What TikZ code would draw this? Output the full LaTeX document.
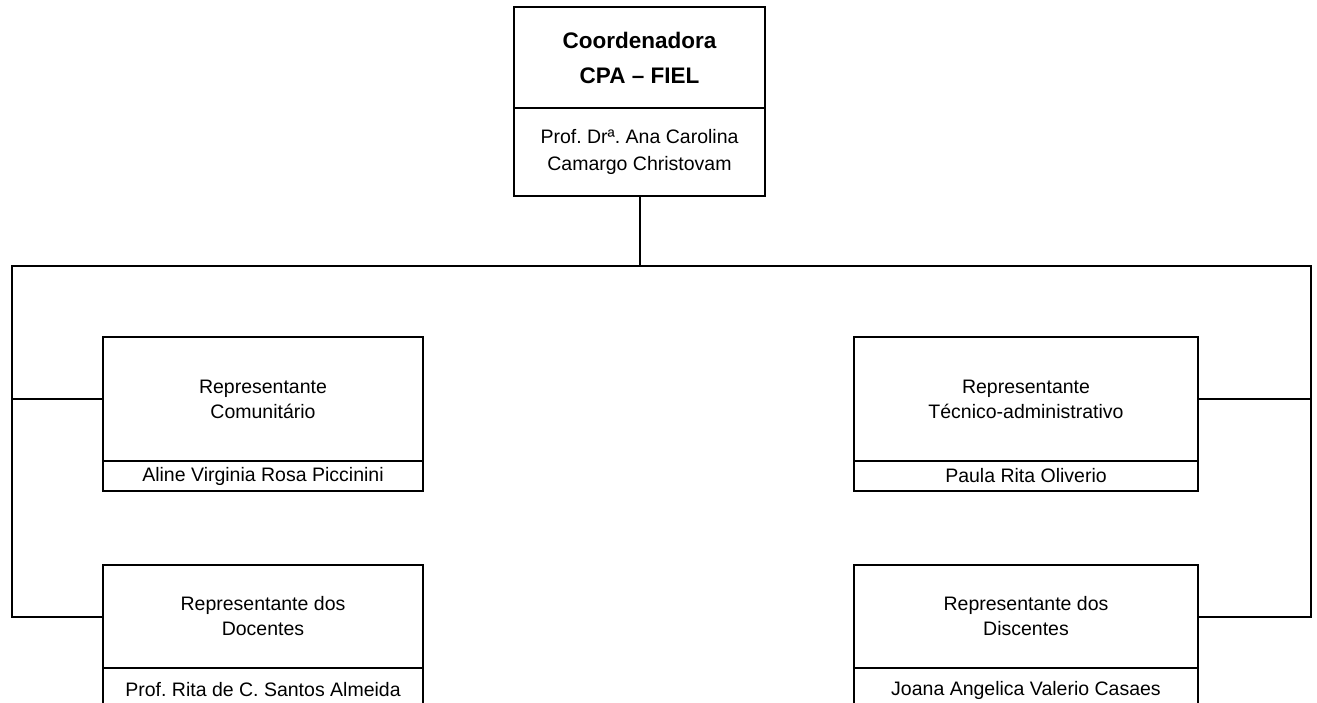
\documentclass[tikz,border=0pt]{standalone}
\usepackage{fontspec}
\setmainfont{Liberation Sans}
\begin{document}
\frenchspacing
\begin{tikzpicture}[x=1pt,y=-1pt,
  cell/.style={draw, line width=2pt, inner sep=0pt, outer sep=0pt, align=center},
  ttl/.style={font=\bfseries\fontsize{22.5}{35}\selectfont},
  txt/.style={font=\fontsize{19.5}{25}\selectfont},
  wire/.style={draw, line width=2pt}]
\useasboundingbox (0,0) rectangle (1317,702);
\clip (0,0) rectangle (1317,702);
% top box
\node[cell, ttl, minimum width=251pt, minimum height=101pt] (top) at (639.5,57.5) {Coordenadora\\CPA – FIEL};
\node[cell, font=\fontsize{19.5}{27}\selectfont, minimum width=251pt, minimum height=88pt] (topn) at (639.5,152) {Prof. Drª. Ana Carolina\\Camargo Christovam};
% left boxes
\node[cell, txt, minimum width=320pt, minimum height=124pt] (rc) at (263,399) {Representante\\Comunitário};
\node[cell, txt, minimum width=320pt, minimum height=30pt] (rcn) at (263,476) {Aline Virginia Rosa Piccinini};
\node[cell, txt, minimum width=320pt, minimum height=103pt] (rd) at (263,616.5) {Representante dos\\Docentes};
\node[cell, txt, minimum width=320pt, minimum height=44pt] (rdn) at (263,690) {Prof. Rita de C. Santos Almeida};
% right boxes
\node[cell, txt, minimum width=344pt, minimum height=124pt] (rt) at (1026,399) {Representante\\Técnico-administrativo};
\node[cell, txt, minimum width=344pt, minimum height=30pt] (rtn) at (1026,476) {Paula Rita Oliverio};
\node[cell, txt, minimum width=344pt, minimum height=103pt] (rs) at (1026,616.5) {Representante dos\\Discentes};
\node[cell, txt, minimum width=344pt, minimum height=44pt] (rsn) at (1026,690) {Joana Angelica Valerio Casaes};
% bus
\coordinate (busL) at (12,266);
\coordinate (busR) at (1311,266);
\path[wire] (topn.south) -- (topn.south |- busL);
\path[wire] (rd.west) -| (busL) -- (busR) |- (rs.east);
\path[wire] (rc.west) -- (rc.west -| busL);
\path[wire] (rt.east) -- (rt.east -| busR);
\end{tikzpicture}
\end{document}
